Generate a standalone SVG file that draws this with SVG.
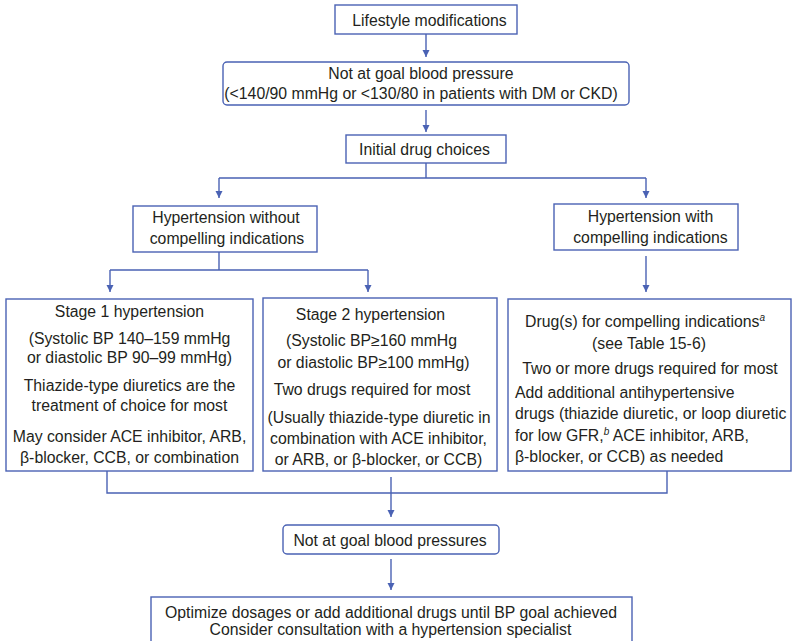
<svg xmlns="http://www.w3.org/2000/svg" width="794" height="641" viewBox="0 0 794 641">
<defs>
<style>
.box{fill:#fff;stroke:#4a62b4;stroke-width:1.4}
.ln{fill:none;stroke:#4a62b4;stroke-width:1.4}
text{font-family:"Liberation Sans",Arial,sans-serif;font-size:15.8px;fill:#231f20}
.c{text-anchor:middle}
.sup{font-size:10px;font-style:italic}
</style>
<marker id="ah" markerUnits="userSpaceOnUse" markerWidth="8" markerHeight="8" refX="7" refY="3.5" orient="auto">
<path d="M0,0 L7,3.5 L0,7 z" fill="#4a62b4"/>
</marker>
</defs>
<rect width="794" height="641" fill="#fff"/>
<g id="connectors">
<path class="ln" d="M426,34 V57" marker-end="url(#ah)"/>
<path class="ln" d="M426,110 V132" marker-end="url(#ah)"/>
<path class="ln" d="M426,163 V178 M219,178 H646"/>
<path class="ln" d="M219,178 V198" marker-end="url(#ah)"/>
<path class="ln" d="M646,178 V198" marker-end="url(#ah)"/>
<path class="ln" d="M219,252 V270 M110,270 H368"/>
<path class="ln" d="M110,270 V292" marker-end="url(#ah)"/>
<path class="ln" d="M368,270 V292" marker-end="url(#ah)"/>
<path class="ln" d="M646,256 V292" marker-end="url(#ah)"/>
<path class="ln" d="M107,471 V493 H667 V471"/>
<path class="ln" d="M391,477 V517" marker-end="url(#ah)"/>
<path class="ln" d="M391,559 V590" marker-end="url(#ah)"/>
</g>
<g id="lifestyle">
<rect class="box" x="335" y="5" width="182" height="29"/>
<text class="c" x="429.5" y="25.5">Lifestyle modifications</text>
</g>
<g id="not-at-goal">
<rect class="box" x="223" y="62" width="406" height="43" rx="4"/>
<text class="c" x="421" y="78.5">Not at goal blood pressure</text>
<text class="c" x="421" y="99">(&lt;140/90 mmHg or &lt;130/80 in patients with DM or CKD)</text>
</g>
<g id="initial">
<rect class="box" x="346" y="135" width="160" height="28"/>
<text class="c" x="424.5" y="155">Initial drug choices</text>
</g>
<g id="without">
<rect class="box" x="133" y="206" width="184" height="46"/>
<text class="c" x="226" y="223">Hypertension without</text>
<text class="c" x="227" y="244">compelling indications</text>
</g>
<g id="with">
<rect class="box" x="554" y="204" width="184" height="46"/>
<text class="c" x="650.5" y="222">Hypertension with</text>
<text class="c" x="650.5" y="243">compelling indications</text>
</g>
<g id="stage1">
<rect class="box" x="6" y="299" width="247" height="172"/>
<text class="c" x="129.5" y="316.5">Stage 1 hypertension</text>
<text class="c" x="129.5" y="343.5">(Systolic BP 140–159 mmHg</text>
<text class="c" x="129.5" y="362.5">or diastolic BP 90–99 mmHg)</text>
<text class="c" x="129.5" y="390.5">Thiazide-type diuretics are the</text>
<text class="c" x="129.5" y="410.5">treatment of choice for most</text>
<text class="c" x="129.5" y="441.5">May consider ACE inhibitor, ARB,</text>
<text class="c" x="129.5" y="462.5">β-blocker, CCB, or combination</text>
</g>
<g id="stage2">
<rect class="box" x="263" y="298" width="234" height="173"/>
<text class="c" x="370.5" y="319.5">Stage 2 hypertension</text>
<text class="c" x="371.5" y="345.5">(Systolic BP≥160 mmHg</text>
<text class="c" x="373.5" y="367.5">or diastolic BP≥100 mmHg)</text>
<text class="c" x="372" y="394.5">Two drugs required for most</text>
<text class="c" x="379" y="422.5">(Usually thiazide-type diuretic in</text>
<text class="c" x="378.5" y="443.5">combination with ACE inhibitor,</text>
<text class="c" x="378.5" y="464.5">or ARB, or β-blocker, or CCB)</text>
</g>
<g id="stage3">
<rect class="box" x="508" y="299" width="283" height="172"/>
<text class="c" x="645" y="326.5">Drug(s) for compelling indications<tspan class="sup" dy="-6">a</tspan></text>
<text class="c" x="649" y="348.5">(see Table 15-6)</text>
<text class="c" x="650" y="373.5">Two or more drugs required for most</text>
<text x="515" y="397.5">Add additional antihypertensive</text>
<text x="515" y="418.5">drugs (thiazide diuretic, or loop diuretic</text>
<text x="515" y="440.5">for low GFR,<tspan class="sup" dy="-6">b</tspan><tspan dy="6"> ACE inhibitor, ARB,</tspan></text>
<text x="515" y="461.5">β-blocker, or CCB) as needed</text>
</g>
<g id="not-at-goal-2">
<rect class="box" x="283" y="525" width="216" height="29" rx="4"/>
<text class="c" x="390" y="545.5">Not at goal blood pressures</text>
</g>
<g id="optimize">
<rect class="box" x="151" y="597" width="481" height="60"/>
<text class="c" x="391" y="618">Optimize dosages or add additional drugs until BP goal achieved</text>
<text class="c" x="390.5" y="635">Consider consultation with a hypertension specialist</text>
</g>
</svg>
